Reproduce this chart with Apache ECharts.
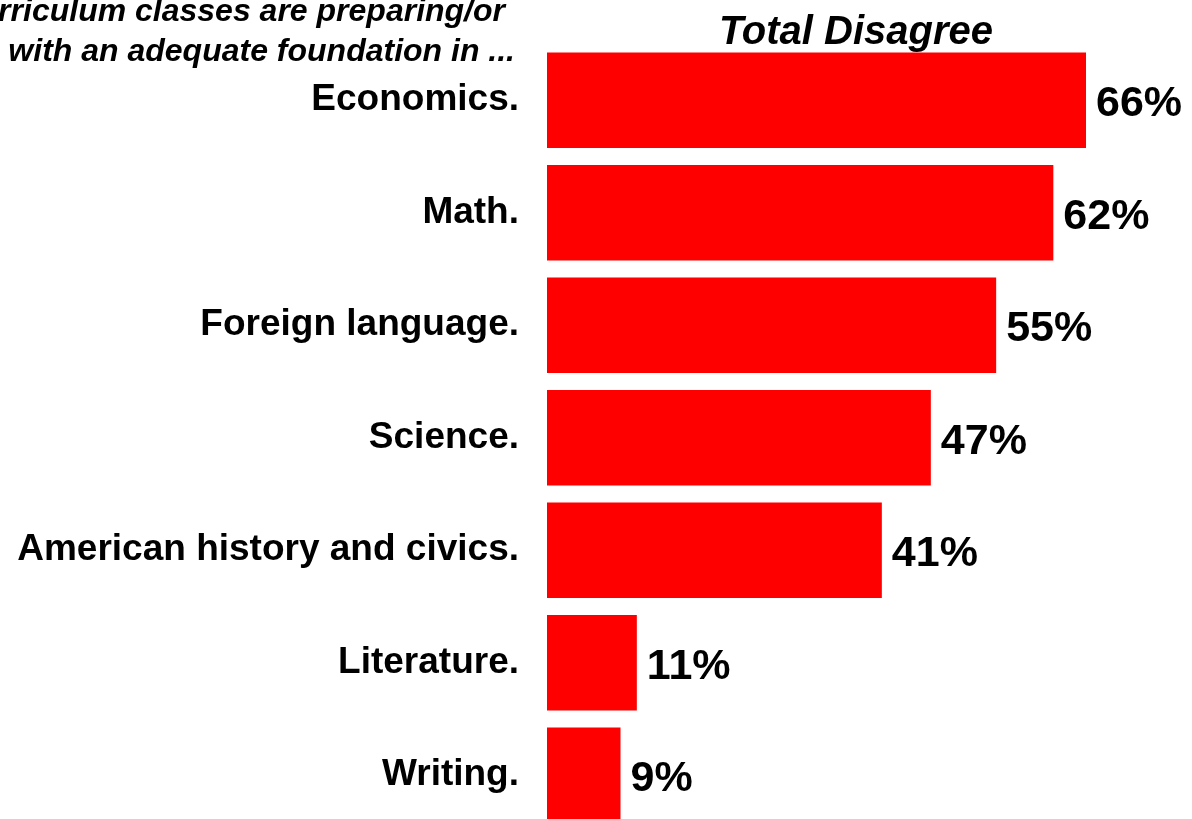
<!DOCTYPE html>
<html>
<head>
<meta charset="utf-8">
<script src="https://cdn.jsdelivr.net/npm/echarts@6/dist/echarts.min.js"></script>
<style>
html,body{margin:0;padding:0;background:#fff;}
#chart{width:1192px;height:819px;}
</style>
</head>
<body>
<div id="chart"></div>
<script>
const categories = ["Economics.", "Math.", "Foreign language.", "Science.", "American history and civics.", "Literature.", "Writing."];
const totalDisagree = [66, 62, 55, 47, 41, 11, 9];
const chartTitle = "Total Disagree";
const questionLine1 = "The core curriculum classes are preparing/or";
const questionLine2 = "provide students with an adequate foundation in ...";

const FONT = "'Liberation Sans', Arial, sans-serif";
const chart = echarts.init(document.getElementById('chart'), null, {renderer: 'canvas'});
chart.setOption({
  backgroundColor: '#ffffff',
  animation: false,
  title: {
    text: chartTitle,
    left: 851,
    top: 8,
    textAlign: 'center',
    textStyle: {fontFamily: FONT, fontSize: 40, fontWeight: 'bold', fontStyle: 'italic', color: '#000'}
  },
  graphic: [
    {type: 'text', x: 505, y: 12, style: {text: questionLine1, align: 'right', verticalAlign: 'middle', font: "italic bold 32px 'Liberation Sans', Arial, sans-serif", fill: '#000'}},
    {type: 'text', x: 515, y: 52, style: {text: questionLine2, align: 'right', verticalAlign: 'middle', font: "italic bold 32px 'Liberation Sans', Arial, sans-serif", fill: '#000'}}
  ],
  grid: {left: 547, top: 44, width: 637, height: 787.5, containLabel: false, outerBoundsMode: 'none'},
  xAxis: {
    type: 'value', min: 0, max: 78, show: false
  },
  yAxis: {
    type: 'category', data: categories, inverse: true,
    axisLine: {show: false}, axisTick: {show: false}, splitLine: {show: false},
    axisLabel: {margin: 28, padding: [4, 0, 0, 0], fontFamily: FONT, fontSize: 37, fontWeight: 'bold', color: '#000'}
  },
  series: [{
    type: 'bar',
    data: totalDisagree,
    barCategoryGap: '15%',
    itemStyle: {color: '#ff0000'},
    label: {
      show: true, position: 'right', distance: 10, offset: [0, 4],
      formatter: '{c}%',
      fontFamily: FONT, fontSize: 43, fontWeight: 'bold', color: '#000'
    }
  }]
});
</script>
</body>
</html>
